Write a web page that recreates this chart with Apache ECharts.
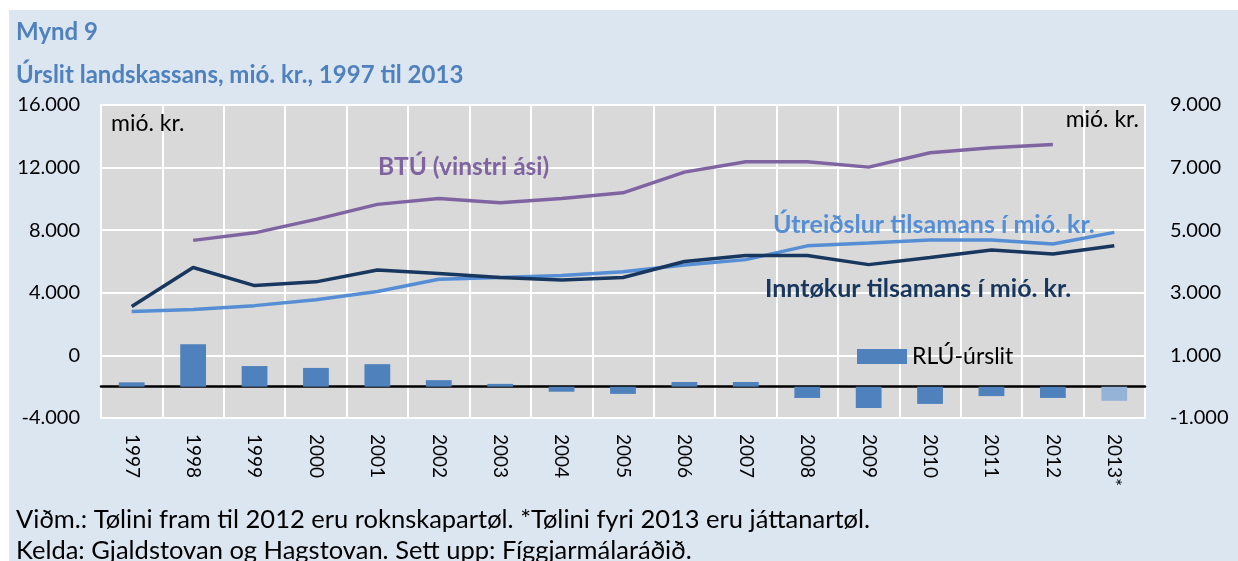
<!DOCTYPE html>
<html>
<head>
<meta charset="utf-8">
<script src="https://cdn.jsdelivr.net/npm/echarts@6/dist/echarts.min.js"></script>
<style>
  html, body { margin: 0; padding: 0; background: #fff; }
  #chart { width: 1238px; height: 561px; }
</style>
</head>
<body>
<div id="chart"></div>
<script>
// ár
const years = ["1997", "1998", "1999", "2000", "2001", "2002", "2003", "2004", "2005",
  "2006", "2007", "2008", "2009", "2010", "2011", "2012", "2013*"];
// BTÚ (vinstri ási)
const btu = [null, 7350, 7830, 8690, 9650, 10030, 9750, 10030, 10390,
  11710, 12370, 12370, 12030, 12950, 13270, 13480, null];
// útreiðslur tilsamans (høgri ási)
const utreidslur = [2400, 2470, 2590, 2780, 3040, 3430, 3490, 3550, 3670,
  3890, 4060, 4500, 4590, 4690, 4690, 4560, 4930];
// inntøkur tilsamans (høgri ási)
const inntokur = [2560, 3810, 3230, 3350, 3730, 3620, 3490, 3410, 3490,
  4000, 4190, 4190, 3900, 4130, 4370, 4240, 4500];
// RLÚ-úrslit (høgri ási)
const rlu = [140, 1360, 660, 600, 720, 210, 90, -160, -230,
  150, 150, -360, -680, -550, -300, -360, -450];

const leftTicks = { min: -4000, max: 16000, interval: 4000 };
const rightTicks = { min: -1000, max: 9000, interval: 2000 };

const font = "Lato, 'Open Sans', sans-serif";
const fmt = v => (v < 0 ? "-" : "") + Math.abs(v).toLocaleString("de-DE");

// tekstur inni í myndini
function label(text, x, y, size, color, bold, align) {
  return {
    type: "text", z: 100, silent: true,
    style: {
      text: text, x: x, y: y,
      font: (bold ? "bold " : "") + size + "px " + font,
      fill: color, textVerticalAlign: "middle", textAlign: align || "left"
    }
  };
}

const chart = echarts.init(document.getElementById("chart"));

chart.setOption({
  animation: false,
  textStyle: { fontFamily: font },
  grid: {
    left: 101, right: 93, top: 105, bottom: 143,
    show: true, backgroundColor: "#d9d9d9", borderColor: "#ffffff", borderWidth: 2
  },
  legend: {
    data: ["RLÚ-úrslit"],
    left: 852, top: 340,
    itemWidth: 50, itemHeight: 15, itemGap: 8,
    icon: "rect",
    textStyle: { fontFamily: font, fontSize: 23, color: "#000" }
  },
  xAxis: {
    type: "category",
    data: years,
    boundaryGap: true,
    axisLine: { onZero: true, onZeroAxisIndex: 1, lineStyle: { color: "#000", width: 2.5 } },
    axisTick: { show: false },
    splitLine: { show: true, interval: 0, lineStyle: { color: "#fff", width: 2 } },
    axisLabel: {
      interval: 0, rotate: -90, margin: 16,
      color: "#000", fontSize: 19, fontFamily: font
    }
  },
  yAxis: [
    {
      type: "value",
      min: leftTicks.min, max: leftTicks.max, interval: leftTicks.interval,
      axisLine: { show: false }, axisTick: { show: false },
      splitLine: { lineStyle: { color: "#fff", width: 2 } },
      axisLabel: { color: "#000", fontSize: 20, margin: 21, formatter: fmt }
    },
    {
      type: "value",
      min: rightTicks.min, max: rightTicks.max, interval: rightTicks.interval,
      axisLine: { show: false }, axisTick: { show: false },
      splitLine: { show: false },
      axisLabel: { color: "#000", fontSize: 20, margin: 25, formatter: fmt }
    }
  ],
  series: [
    {
      name: "RLÚ-úrslit",
      type: "bar",
      yAxisIndex: 1,
      barWidth: "42%",
      itemStyle: { color: "#4f81bd" },
      data: rlu.map((v, i) => i === rlu.length - 1
        ? { value: v, itemStyle: { color: "#95b3d7" } }
        : v)
    },
    {
      name: "BTÚ",
      type: "line",
      yAxisIndex: 0,
      data: btu,
      symbol: "none",
      lineStyle: { color: "#8064a2", width: 3.5 }
    },
    {
      name: "Útreiðslur",
      type: "line",
      yAxisIndex: 1,
      data: utreidslur,
      symbol: "none",
      lineStyle: { color: "#558ed5", width: 3.5 }
    },
    {
      name: "Inntøkur",
      type: "line",
      yAxisIndex: 1,
      data: inntokur,
      symbol: "none",
      lineStyle: { color: "#17375e", width: 3.5 }
    }
  ],
  graphic: [
    { type: "rect", z: -10, silent: true, shape: { x: 9, y: 10, width: 1229, height: 551 },
      style: { fill: "#dce6f1" } },
    label("Mynd 9", 16, 32, 24, "#4f81bd", true),
    label("Úrslit landskassans, mió. kr., 1997 til 2013", 16, 75, 24, "#4f81bd", true),
    label("mió. kr.", 111, 124, 23, "#000", false),
    label("mió. kr.", 1139, 120, 23, "#000", false, "right"),
    label("BTÚ (vinstri ási)", 378, 167, 24.5, "#8064a2", true),
    label("Útreiðslur tilsamans í mió. kr.", 773, 225, 25, "#558ed5", true),
    label("Inntøkur tilsamans í mió. kr.", 765, 289, 25, "#17375e", true),
    label("Viðm.: Tølini fram til 2012 eru roknskapartøl. *Tølini fyri 2013 eru játtanartøl.", 16, 520, 25.5, "#000", false),
    label("Kelda: Gjaldstovan og Hagstovan. Sett upp: Fíggjarmálaráðið.", 16, 551, 25.5, "#000", false)
  ]
});
</script>
</body>
</html>
